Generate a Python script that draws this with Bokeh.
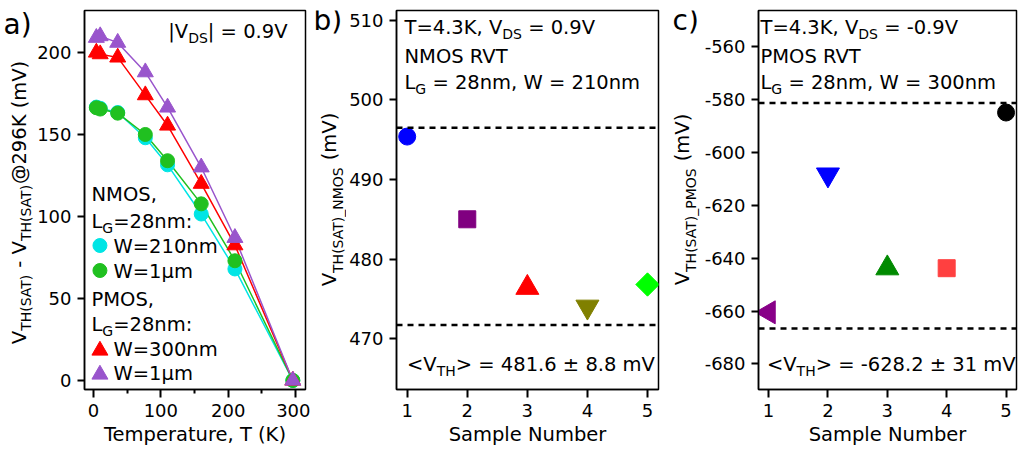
import math
from bokeh.plotting import figure
from bokeh.models import Range1d, FixedTicker, Label, Span, ColumnDataSource
from bokeh.layouts import row
from bokeh.embed import file_html
from bokeh.resources import INLINE

# ---------------- data ----------------
temps_K = [4.3, 10, 36, 77, 110, 160, 210, 296]
nmos_w210nm = [166.7, 166.0, 163.4, 148.0, 131.5, 101.5, 68.0, 0.0]
nmos_w1um = [166.3, 165.5, 163.0, 150.0, 134.0, 107.7, 73.0, 0.0]
pmos_w300nm = [200.0, 199.0, 197.0, 174.0, 155.5, 120.0, 82.5, 0.0]
pmos_w1um = [209.0, 210.0, 206.0, 188.0, 166.5, 130.0, 87.0, 0.0]

sample_number = [1, 2, 3, 4, 5]
nmos_vth_mV = [495.4, 485.0, 476.4, 474.0, 476.8]
pmos_vth_mV = [-660.5, -608.4, -643.8, -643.8, -584.9]
nmos_limits_mV = [496.5, 471.7]
pmos_limits_mV = [-581.3, -666.6]

temp_ticks = [0, 100, 200, 300]
temp_minor_ticks = [50, 150, 250]
delta_ticks = [0, 50, 100, 150, 200]
nmos_ticks = [470, 480, 490, 500, 510]
pmos_ticks = [-680, -660, -640, -620, -600, -580, -560]

# ---------------- styles ----------------
FONT = "DejaVu Sans"
FS = 19.5
SUB = 14
TICK_FS = "18px"
BASE_FIX = 0.33  # em correction so that pieces sit on the intended baseline

nmos_markers = ["circle", "square", "triangle", "inverted_triangle", "square"]
nmos_colors = ["#0000ff", "#800080", "#ff0000", "#808000", "#00ff00"]
nmos_sizes = [17, 17, 23, 23, 16.5]
nmos_angles = [0, 0, 0, 0, math.pi / 4]
pmos_markers = ["triangle", "inverted_triangle", "triangle", "square", "circle"]
pmos_colors = ["#880088", "#0000ff", "#008a00", "#ff4040", "#000000"]
pmos_sizes = [23, 23, 23, 17, 17]
pmos_angles = [math.pi / 2, 0, 0, 0, 0]

# DejaVu Sans advance widths (units per em = 2048)
ADV = {' ': 651, '(': 799, ')': 799, ',': 651, '-': 739, '.': 651, ':': 690,
       '<': 1716, '=': 1716, '>': 1716, '@': 2048, '_': 1024, '|': 690,
       '\u00b1': 1716, '\u00b5': 1311,
       'A': 1401, 'D': 1577, 'G': 1587, 'H': 1540, 'K': 1343, 'L': 1141,
       'M': 1767, 'N': 1532, 'O': 1612, 'P': 1235, 'R': 1423, 'S': 1300,
       'T': 1251, 'V': 1401, 'W': 2025,
       'a': 1255, 'b': 1300, 'c': 1126, 'e': 1260, 'i': 569, 'l': 569, 'm': 1995,
       'n': 1298, 'o': 1253, 'p': 1300, 'r': 842, 's': 1067, 't': 803,
       'u': 1298}
for d in "0123456789":
    ADV[d] = 1303


def tw(s, fs):
    return sum(ADV.get(c, 1250) for c in s) / 2048.0 * fs


H = 452  # canvas height of every figure (page y 0..452)


def rich(add, px, py, runs, size=FS, sub=SUB, align="left", rotated=False, shift=5):
    """Place a run of normal / subscript text pieces, baseline anchored at page pixel (px, py)."""
    total = sum(tw(t, sub if s else size) for t, s in runs)
    pos = {"left": 0.0, "center": -total / 2.0, "right": -total}[align]
    for t, s in runs:
        fs = sub if s else size
        lead = len(t) - len(t.lstrip(" "))
        pos_t = pos + tw(t[:lead], fs)
        if rotated:
            x, y = px + (shift if s else 0) - BASE_FIX * fs, py - pos_t
        else:
            x, y = px + pos_t, py + (shift if s else 0) - BASE_FIX * fs
        add(x, y, t.strip(" "), fs, math.pi / 2 if rotated else 0)
        pos += tw(t, fs)


class Panel:
    def __init__(self, fig_left, width, frame, ref, xr, yr):
        self.left = fig_left
        self.ML, self.MR, self.MT, self.MB = frame
        self.RL, self.RR, self.RT, self.RB = ref
        self.xr, self.yr = xr, yr
        self.fig = figure(width=width, height=H, title=None,
                          x_range=Range1d(*xr), y_range=Range1d(*yr),
                          output_backend="svg", toolbar_location=None,
                          min_border_left=self.ML - fig_left,
                          min_border_right=fig_left + width - self.MR,
                          min_border_top=self.MT,
                          min_border_bottom=H - self.MB)

    def data(self, px, py):
        x0, x1 = self.xr
        y0, y1 = self.yr
        x = x0 + (px - self.ML) / (self.MR - self.ML) * (x1 - x0)
        y = y1 - (py - self.MT) / (self.MB - self.MT) * (y1 - y0)
        return x, y

    def ref(self, rx, ry):
        px = self.ML + (rx - self.RL) / (self.RR - self.RL) * (self.MR - self.ML)
        py = self.MT + (ry - self.RT) / (self.RB - self.RT) * (self.MB - self.MT)
        return px, py

    def add(self, x, y, txt, fs, angle):
        self.fig.add_layout(Label(x=x - self.left, y=y, x_units="canvas", y_units="canvas",
                                  text=txt, text_font=FONT, text_font_size=f"{fs}px",
                                  text_color="black", text_baseline="alphabetic",
                                  text_align="left", angle=angle))

    def text(self, rx, ry, runs, **kw):
        px, py = self.ref(rx, ry)
        rich(self.add, px, py, runs, **kw)


class TextStrip:
    """A figure with no axes whose frame is the whole canvas, for texts beside a panel."""
    def __init__(self, fig_left, width):
        self.left = fig_left
        self.fig = figure(width=width, height=H, title=None, x_range=Range1d(0, width),
                          y_range=Range1d(H, 0), output_backend="svg",
                          toolbar_location=None, x_axis_type=None, y_axis_type=None,
                          min_border_left=0, min_border_right=0,
                          min_border_top=0, min_border_bottom=0)
        self.fig.xgrid.visible = False
        self.fig.ygrid.visible = False
        self.fig.outline_line_color = None
        self.fig.background_fill_color = "white"
        self.fig.border_fill_color = "white"

    def add(self, x, y, txt, fs, angle):
        self.fig.add_layout(Label(x=x - self.left, y=y, x_units="canvas", y_units="canvas",
                                  text=txt, text_font=FONT,
                                  text_font_size=f"{fs}px", text_color="black",
                                  text_baseline="alphabetic", text_align="left",
                                  angle=angle))

    def text(self, px, py, runs, **kw):
        rich(self.add, px, py, runs, **kw)


def style(p, xticks, yticks, xlabel, xminor=None):
    p.xgrid.visible = False
    p.ygrid.visible = False
    p.outline_line_color = "black"
    p.outline_line_width = 1.5
    p.outline_line_alpha = 1
    p.background_fill_color = "white"
    p.border_fill_color = "white"
    for ax in (p.xaxis[0], p.yaxis[0]):
        ax.axis_line_color = "black"
        ax.axis_line_width = 1.5
        ax.major_tick_line_color = "black"
        ax.major_tick_line_width = 2
        ax.major_tick_in = 0
        ax.major_tick_out = 7
        ax.minor_tick_line_color = "black"
        ax.minor_tick_line_width = 2
        ax.minor_tick_in = 0
        ax.minor_tick_out = 4
        ax.major_label_text_font = FONT
        ax.major_label_text_font_size = TICK_FS
        ax.major_label_text_color = "black"
    p.xaxis[0].ticker = FixedTicker(ticks=xticks, minor_ticks=xminor or [])
    p.yaxis[0].ticker = FixedTicker(ticks=yticks, minor_ticks=[])
    p.yaxis[0].major_label_overrides = {t: str(t) for t in yticks}
    p.xaxis[0].major_tick_out = 8
    p.xaxis[0].major_label_standoff = 6
    p.yaxis[0].major_label_standoff = 6
    p.xaxis[0].axis_label = xlabel
    p.xaxis[0].axis_label_text_font = FONT
    p.xaxis[0].axis_label_text_font_size = f"{FS}px"
    p.xaxis[0].axis_label_text_font_style = "normal"
    p.xaxis[0].axis_label_text_color = "black"
    p.xaxis[0].axis_label_standoff = 3


# ---------------- panel a ----------------
TA = TextStrip(0, 34)
A = Panel(34, 276, (83, 305, 10, 389), (83, 305, 10, 389), (-13.3, 314.8), (-5.5, 225.6))
pa = A.fig
style(pa, temp_ticks, delta_ticks, "Temperature, T (K)", temp_minor_ticks)

series = [
    (nmos_w210nm, "#00e5e5", "circle", 14),
    (nmos_w1um, "#20c020", "circle", 14),
    (pmos_w300nm, "#ff0000", "triangle", 16),
    (pmos_w1um, "#9955cc", "triangle", 16),
]
for vals, col, mk, sz in series:
    pa.line(temps_K, vals, line_color=col, line_width=1.5)
for vals, col, mk, sz in series:
    pa.scatter(temps_K, vals, marker=mk, size=sz, fill_color=col, line_color=col)

TA.text(3, 33, [("a)", 0)], size=28)
TA.text(25, 202, [("V", 0), ("TH(SAT)", 1), (" - ", 0), ("V", 0), ("TH(SAT)", 1),
                  ("@296K (mV)", 0)], align="center", rotated=True, shift=5)
A.text(287, 37, [("|V", 0), ("DS", 1), ("| = 0.9V", 0)], align="right")
legend_rows = [
    (200, None, [("NMOS,", 0)]),
    (227, None, [("L", 0), ("G", 1), ("=28nm:", 0)]),
    (252, 0, [("W=210nm", 0)]),
    (277, 1, [("W=1\u00b5m", 0)]),
    (305, None, [("PMOS,", 0)]),
    (330, None, [("L", 0), ("G", 1), ("=28nm:", 0)]),
    (355, 2, [("W=300nm", 0)]),
    (379, 3, [("W=1\u00b5m", 0)]),
]
for base, idx, runs in legend_rows:
    if idx is None:
        A.text(91, base, runs)
    else:
        _, col, mk, sz = series[idx]
        dx, dy = A.data(*A.ref(98.5, base - (7 if mk == "circle" else 5)))
        pa.scatter([dx], [dy], marker=mk, size=sz, fill_color=col, line_color=col)
        A.text(113, base, runs)

# ---------------- panel b ----------------
TB = TextStrip(310, 36)
B = Panel(346, 316, (396, 658, 8, 389), (396, 658, 8, 389), (0.822, 5.183), (463.6, 511.25))
pb = B.fig
style(pb, sample_number, nmos_ticks, "Sample Number")
for v in nmos_limits_mV:
    pb.add_layout(Span(location=v, dimension="width", line_color="black",
                       line_width=2.5, line_dash="6 5"))
src_b = ColumnDataSource(dict(x=sample_number, y=nmos_vth_mV, m=nmos_markers,
                              c=nmos_colors, s=nmos_sizes, a=nmos_angles))
pb.scatter("x", "y", marker="m", size="s", angle="a", fill_color="c", line_color="c", source=src_b)
TB.text(313, 29, [("b)", 0)], size=28)
TB.text(335, 199, [("V", 0), ("TH(SAT)_NMOS", 1), (" (mV)", 0)],
        align="center", rotated=True, shift=7)
B.text(404, 33, [("T=4.3K, V", 0), ("DS", 1), (" = 0.9V", 0)])
B.text(404, 62, [("NMOS RVT", 0)])
B.text(404, 88, [("L", 0), ("G", 1), (" = 28nm, W = 210nm", 0)])
B.text(406.5, 370, [("<V", 0), ("TH", 1), ("> = 481.6 \u00b1 8.8 mV", 0)])

# ---------------- panel c ----------------
TC = TextStrip(662, 39)
C = Panel(701, 317, (757, 1016, 8, 389), (757, 1018, 8, 389), (0.83, 5.176), (-689.7, -546.3))
pc = C.fig
style(pc, sample_number, pmos_ticks, "Sample Number")
for v in pmos_limits_mV:
    pc.add_layout(Span(location=v, dimension="width", line_color="black",
                       line_width=2.5, line_dash="6 5"))
src_c = ColumnDataSource(dict(x=sample_number, y=pmos_vth_mV, m=pmos_markers,
                              c=pmos_colors, s=pmos_sizes, a=pmos_angles))
pc.scatter("x", "y", marker="m", size="s", angle="a", fill_color="c", line_color="c", source=src_c)
TC.text(672, 29, [("c)", 0)], size=28)
TC.text(688, 199, [("V", 0), ("TH(SAT)_PMOS", 1), (" (mV)", 0)],
        align="center", rotated=True, shift=7)
C.text(760, 33, [("T=4.3K, V", 0), ("DS", 1), (" = -0.9V", 0)])
C.text(760, 62, [("PMOS RVT", 0)])
C.text(760, 88, [("L", 0), ("G", 1), (" = 28nm, W = 300nm", 0)])
C.text(766.5, 370, [("<V", 0), ("TH", 1), ("> = -628.2 \u00b1 31 mV", 0)])

layout = row(TA.fig, pa, TB.fig, pb, TC.fig, pc, spacing=0)
with open("out.html", "w", encoding="utf-8") as f:
    f.write(file_html(layout, INLINE))
